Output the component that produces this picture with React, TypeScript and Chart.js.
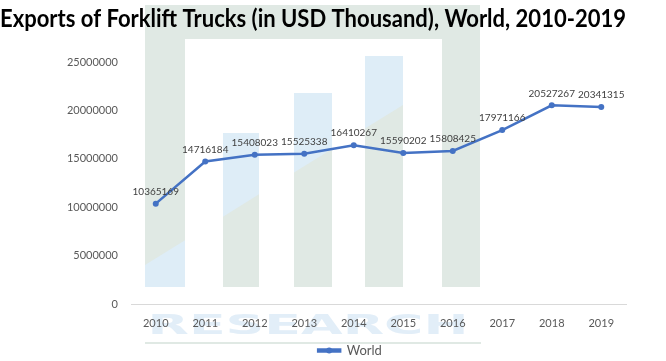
import React, { useEffect, useRef } from "react";
import { Chart, registerables } from "chart.js";

Chart.register(...registerables);

const years = ["2010", "2011", "2012", "2013", "2014", "2015", "2016", "2017", "2018", "2019"];
const worldExports = [10365169, 14716184, 15408023, 15525338, 16410267, 15590202, 15808425, 17971166, 20527267, 20341315];
const seriesName = "World";
const titleText = "Exports of Forklift Trucks (in USD Thousand), World, 2010-2019";

const LINE = "#4472C4";
const FONT = "Lato, 'Open Sans', sans-serif";
const LEGEND_PAD = 3;
const LEGEND_FONT = 13;
const LEGEND_BOX = 22;

const watermarkPlugin = {
  id: "watermark",
  beforeDraw(chart: any) {
    const ctx = chart.ctx;
    ctx.save();
    const green = "#E0E9E4";
    const blue = "#DEEDF7";
    const diag = (x: number) => 265 - 0.62 * (x - 145);
    const bottom = 287;
    const rect = (x0: number, y0: number, x1: number, y1: number, c: string) => {
      ctx.fillStyle = c;
      ctx.fillRect(x0, y0, x1 - x0, y1 - y0);
    };
    rect(145, 5, 480, 39, green);
    rect(442, 39, 480, bottom, green);
    rect(145, 39, 185, bottom, green);
    ctx.fillStyle = blue;
    ctx.beginPath();
    ctx.moveTo(145, diag(145));
    ctx.lineTo(185, diag(185));
    ctx.lineTo(185, bottom);
    ctx.lineTo(145, bottom);
    ctx.closePath();
    ctx.fill();
    const bars = [
      [223, 259, 133],
      [294, 332, 93],
      [365, 403, 56],
    ];
    for (const [x0, x1, top] of bars) {
      rect(x0, top, x1, bottom, blue);
      ctx.fillStyle = green;
      ctx.beginPath();
      ctx.moveTo(x0, Math.max(top, diag(x0)));
      ctx.lineTo(x1, Math.max(top, diag(x1)));
      ctx.lineTo(x1, bottom);
      ctx.lineTo(x0, bottom);
      ctx.closePath();
      ctx.fill();
    }
    ctx.fillStyle = "#E2EEF8";
    ctx.font = "bold 36px 'DejaVu Sans', sans-serif";
    ctx.textAlign = "center";
    ctx.textBaseline = "alphabetic";
    const t = "RESEARCH";
    const w = ctx.measureText(t).width;
    ctx.save();
    ctx.translate(308, 334);
    ctx.scale(321 / w, 0.75);
    ctx.fillText(t, 0, 0);
    ctx.restore();
    rect(145, 342, 481, 344, green);
    ctx.save();
    ctx.translate(312, 383);
    ctx.scale(1.2, 0.75);
    ctx.fillText("NESTER", 0, 0);
    ctx.restore();
    ctx.restore();
  },
};

const labelPlugin = {
  id: "pointLabels",
  afterLayout(chart: any) {
    const lg = chart.legend;
    if (!lg) return;
    lg.left += 37;
    lg.right += 37;
    if (typeof lg.adjustHitBoxes === "function") lg.adjustHitBoxes();
  },
  afterDatasetsDraw(chart: any) {
    const ctx = chart.ctx;
    const meta = chart.getDatasetMeta(0);
    const data = chart.data.datasets[0].data;
    ctx.save();
    ctx.font = `10px ${FONT}`;
    ctx.fillStyle = "#404040";
    ctx.textAlign = "center";
    ctx.textBaseline = "bottom";
    meta.data.forEach((pt: any, i: number) => {
      ctx.fillText(String(data[i]), pt.x, pt.y - 7);
    });
    ctx.restore();
  },
  afterDraw(chart: any) {
    const lg = chart.legend;
    if (!lg || !lg.lineWidths) return;
    const startX = (lg.left + LEGEND_PAD + lg.right - lg.lineWidths[0]) / 2;
    const cy = lg.top + LEGEND_PAD + LEGEND_FONT / 2;
    const ctx = chart.ctx;
    ctx.save();
    ctx.fillStyle = LINE;
    ctx.beginPath();
    ctx.arc(startX + LEGEND_BOX / 2, cy, 3, 0, Math.PI * 2);
    ctx.fill();
    ctx.restore();
  },
};

export default function App() {
  const ref = useRef<HTMLCanvasElement | null>(null);
  useEffect(() => {
    document.body.style.margin = "0";
    if (!ref.current) return;
    const chart = new Chart(ref.current, {
      type: "line",
      data: {
        labels: years,
        datasets: [
          {
            label: seriesName,
            data: worldExports,
            borderColor: LINE,
            backgroundColor: LINE,
            borderWidth: 2.5,
            pointRadius: 3,
            pointBackgroundColor: LINE,
            pointBorderWidth: 0,
            tension: 0,
          },
        ],
      },
      options: {
        responsive: false,
        animation: false,
        layout: { padding: { left: 0, right: 40, top: 0, bottom: -6 } },
        plugins: {
          title: {
            display: true,
            text: titleText,
            color: "#000000",
            font: { family: FONT, size: 24, weight: "bold" },
            padding: { top: 5, bottom: 28.2 },
          },
          legend: {
            display: true,
            position: "bottom",
            labels: {
              color: "#595959",
              font: { family: FONT, size: LEGEND_FONT },
              boxWidth: LEGEND_BOX,
              boxHeight: 2,
              padding: LEGEND_PAD,
            },
          },
          tooltip: { enabled: false },
        },
        scales: {
          x: {
            offset: true,
            grid: { display: false, drawTicks: false },
            border: { display: true, color: "#D9D9D9", width: 1 },
            ticks: { color: "#595959", font: { family: FONT, size: 11 }, padding: 13 },
            afterFit(scale: any) {
              scale.height = 37;
            },
          },
          y: {
            min: 0,
            max: 25000000,
            grid: { display: false, drawTicks: false },
            border: { display: false },
            ticks: {
              stepSize: 5000000,
              color: "#595959",
              font: { family: FONT, size: 11 },
              padding: 13,
              callback: (v: any) => String(v),
            },
            afterFit(scale: any) {
              scale.width = 131;
            },
          },
        },
      },
      plugins: [watermarkPlugin, labelPlugin],
    });
    return () => chart.destroy();
  }, []);
  return (
    <div style={{ width: 666, height: 361 }}>
      <canvas ref={ref} width={666} height={361} style={{ display: "block" }} />
    </div>
  );
}
